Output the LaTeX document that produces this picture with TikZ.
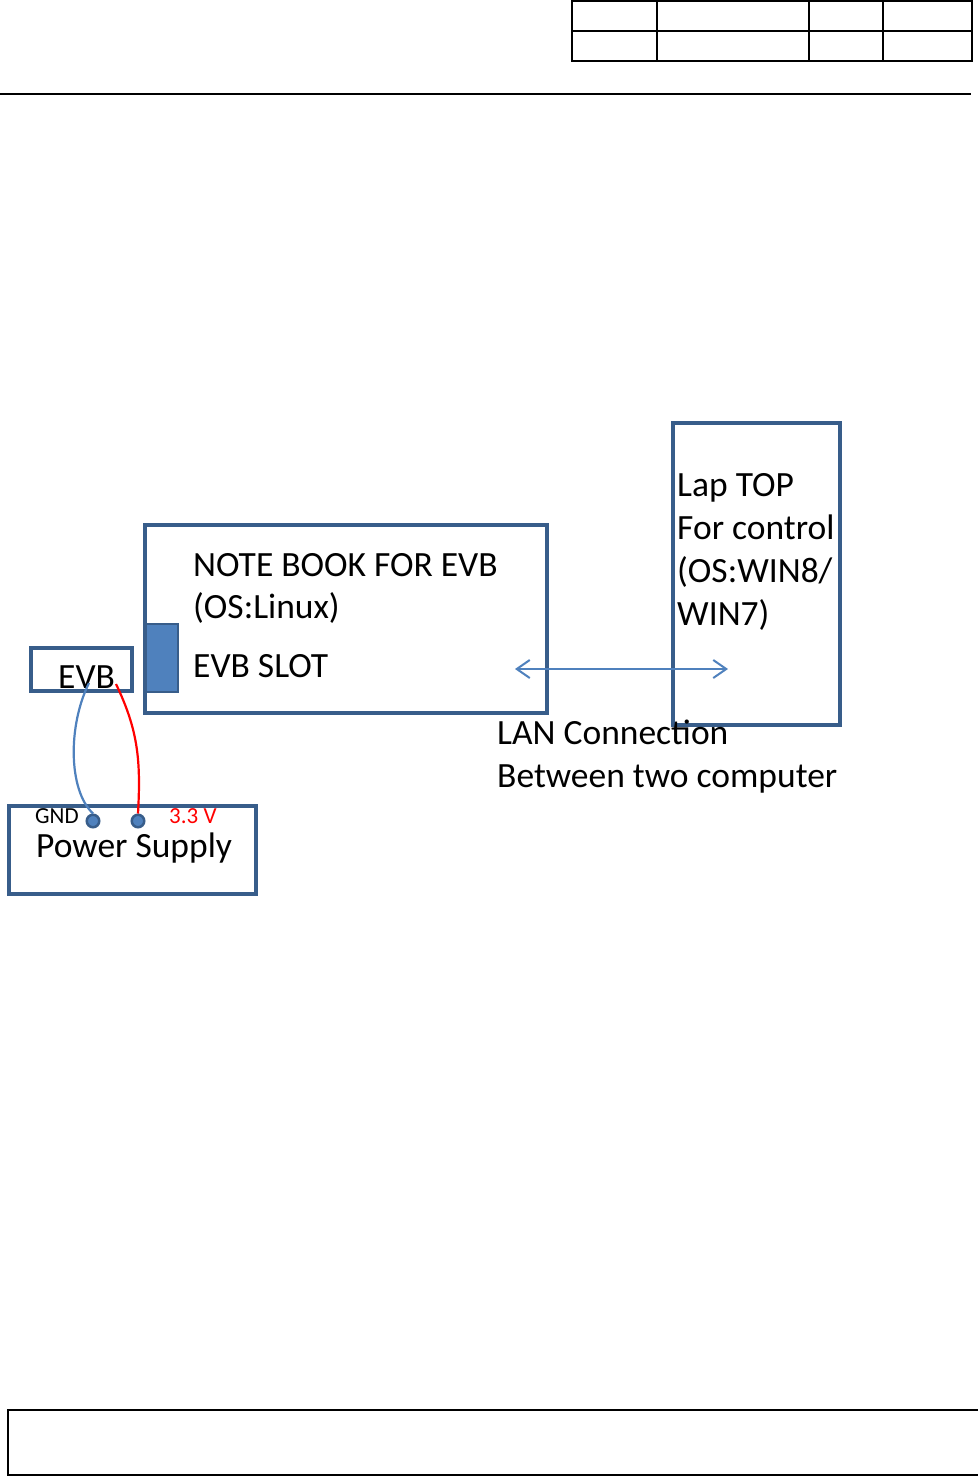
\documentclass[tikz,border=0pt]{standalone}
\usepackage{fontspec}
\setmainfont{Carlito}
\usetikzlibrary{arrows.meta}
\definecolor{boxline}{HTML}{385D8A}
\definecolor{boxfill}{HTML}{4F81BD}
\definecolor{wirered}{HTML}{FF0000}
\begin{document}
\begin{tikzpicture}[x=1pt,y=-1pt,
  blockbox/.style={draw=boxline,line width=4pt,fill=white,outer sep=0pt,inner sep=0pt,anchor=north west},
  bigtxt/.style={anchor=base west,inner sep=0pt,font=\fontsize{35.5}{43}\selectfont},
  smalltxt/.style={anchor=base west,inner sep=0pt,font=\fontsize{23}{27}\selectfont},
  tabline/.style={draw=black,line width=1.6pt},
  pin/.style={circle,draw=boxline,fill=boxfill,line width=2.5pt,minimum size=12.5pt,inner sep=0pt},
  wire/.style={line width=2.2pt}
]
\useasboundingbox (0,0) rectangle (977,1477);
% header table
\draw[tabline] (572,1) rectangle (972,61);
\draw[tabline] (572,31) -- (972,31);
\draw[tabline] (657,1) -- (657,61);
\draw[tabline] (809,1) -- (809,61);
\draw[tabline] (883,1) -- (883,61);
\draw[draw=black,line width=2.6pt] (0,94) -- (971,94);
% footer box
\draw[tabline] (978,1410) -- (8,1410) -- (8,1475) -- (978,1475);

% boxes
\node[blockbox,minimum width=402pt,minimum height=188pt] (nb) at (145,525) {};
\node[draw=boxline,fill=boxfill,line width=2.5pt,minimum width=32pt,minimum height=68pt,inner sep=0pt,outer sep=0pt,anchor=north west] (slot) at (146,624) {};
\node[blockbox,minimum width=101pt,minimum height=43pt] (evb) at (31,648) {};
\node[blockbox,minimum width=167pt,minimum height=302pt] (lap) at (673,423) {};
\node[blockbox,minimum width=247pt,minimum height=88pt] (ps) at (9,806) {};

% texts
\node[bigtxt] (nb1) at (193,576) {NOTE BOOK FOR EVB};
\node[bigtxt] (nb2) at (193,618) {(OS:Linux)};
\node[bigtxt] (nb3) at (193,677) {EVB SLOT};
\node[bigtxt] (lap1) at (677,496) {Lap TOP};
\node[bigtxt] (lap2) at (677,539) {For control};
\node[bigtxt] (lap3) at (677,582) {(OS:WIN8/};
\node[bigtxt] (lap4) at (677,625) {WIN7)};
\node[bigtxt] (lan1) at (497,744) {LAN Connection};
\node[bigtxt] (lan2) at (497,787) {Between two computer};
\node[bigtxt] (evbt) at (58,688) {EVB};
\node[bigtxt] (pst) at (36,857) {Power Supply};
\node[smalltxt] (gnd) at (35,823) {GND};
\node[smalltxt,text=wirered] (v33) at (169,823) {3.3 V};

% pins
\node[pin] (pgnd) at (93,821) {};
\node[pin] (pv) at (138,821) {};

% wires
\coordinate (wb) at (89,683);
\coordinate (wr) at (116,684);
\draw[wire,draw=boxfill] (wb) .. controls (68,725) and (68,790) .. (pgnd.north);
\draw[wire,draw=wirered] (wr) .. controls (138,730) and (141,760) .. (pv.north);

% LAN arrow
\coordinate (lanL) at (515,669);
\coordinate (lanR) at (728,669);
\draw[draw=boxfill,line width=2pt,{Straight Barb[length=13pt,width=18pt,line width=2pt]}-{Straight Barb[length=13pt,width=18pt,line width=2pt]}] (lanL) -- (lanR);
\end{tikzpicture}
\end{document}
